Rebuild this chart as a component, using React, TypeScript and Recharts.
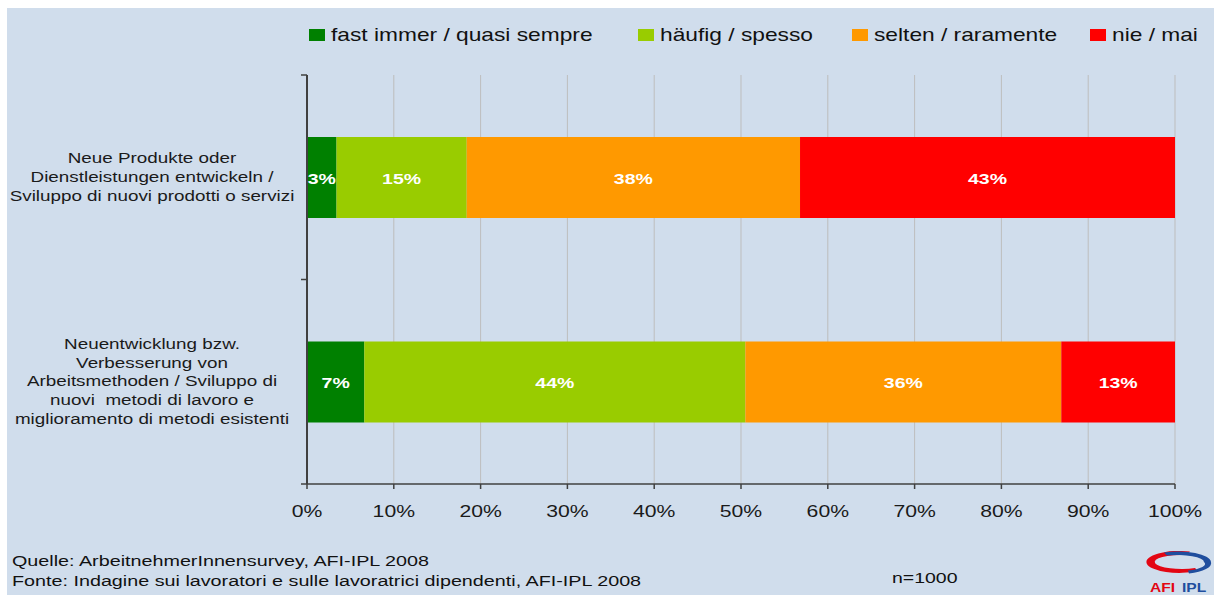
import { BarChart, Bar, XAxis, YAxis, CartesianGrid, Legend, LabelList } from 'recharts';

// Categories (one label line per entry)
const categoryLines = [
  ['Neue Produkte oder', 'Dienstleistungen entwickeln /', 'Sviluppo di nuovi prodotti o servizi'],
  [
    'Neuentwicklung bzw.',
    'Verbesserung von',
    'Arbeitsmethoden / Sviluppo di',
    'nuovi  metodi di lavoro e',
    'miglioramento di metodi esistenti',
  ],
];

// Series values in percent, one entry per category
const fastImmer = [3.4, 6.6];
const haeufig = [15.0, 43.9];
const selten = [38.4, 36.4];
const nie = [43.2, 13.1];

const seriesNames = ['fast immer / quasi sempre', 'häufig / spesso', 'selten / raramente', 'nie / mai'];
const xTicks = [0, 10, 20, 30, 40, 50, 60, 70, 80, 90, 100];

const sourceLines = [
  'Quelle: ArbeitnehmerInnensurvey, AFI-IPL 2008',
  'Fonte: Indagine sui lavoratori e sulle lavoratrici dipendenti, AFI-IPL 2008',
];
const sampleNote = 'n=1000';

// Layout
const W = 1214;
const H = 595;
const X_AXIS_H = 30;
const MARGIN = { top: 75, right: 39, bottom: 111 - X_AXIS_H, left: 17 };
const Y_AXIS_W = 290;
const FONT = '"Liberation Sans", Arial, sans-serif';
const STRETCH = 1.3; // the original picture is stretched sideways
const BG = '#D0DDEC';
const AXIS = '#404040';
const COLORS = ['#008000', '#99CC00', '#FF9900', '#FF0000'];
const LEGEND_X = [309, 638, 852, 1090];

const data = categoryLines.map((lines, i) => ({
  name: lines.join('\n'),
  fast: fastImmer[i],
  haeufig: haeufig[i],
  selten: selten[i],
  nie: nie[i],
}));

const plotH = H - MARGIN.top - MARGIN.bottom - X_AXIS_H;
const halfBand = plotH / categoryLines.length / 2;

const Stretched = ({ x, y, children, ...rest }: any) => (
  <text transform={`translate(${x},${y}) scale(${STRETCH},1)`} x={0} y={0} fontFamily={FONT} {...rest}>
    {children}
  </text>
);

const CategoryTick = ({ y, payload, index }: any) => {
  const lines = String(payload.value).split('\n');
  const lineH = 18.7;
  const start = y - ((lines.length - 1) * lineH) / 2;
  const axisX = MARGIN.left + Y_AXIS_W;
  return (
    <g>
      {lines.map((l, i) => (
        <Stretched
          key={i}
          x={152}
          y={start + i * lineH}
          textAnchor="middle"
          dominantBaseline="central"
          fontSize={14.5}
          fill="#1a1a1a"
          style={{ whiteSpace: 'pre' }}
        >
          {l}
        </Stretched>
      ))}
      <line x1={axisX - 6} x2={axisX} y1={y - halfBand} y2={y - halfBand} stroke={AXIS} strokeWidth={1.5} />
      {index === categoryLines.length - 1 && (
        <line x1={axisX - 6} x2={axisX} y1={y + halfBand} y2={y + halfBand} stroke={AXIS} strokeWidth={1.5} />
      )}
    </g>
  );
};

const PercentTick = ({ x, y, payload }: any) => (
  <Stretched x={x} y={y + 26} textAnchor="middle" fontSize={16.3} fill="#1a1a1a">
    {`${payload.value}%`}
  </Stretched>
);

const BarLabel = ({ x, y, width, height, value }: any) => (
  <Stretched
    x={x + width / 2}
    y={y + height / 2 + 1}
    textAnchor="middle"
    dominantBaseline="central"
    fontSize={15}
    fontWeight="bold"
    fill="#ffffff"
  >
    {`${Math.round(value)}%`}
  </Stretched>
);

const LegendContent = ({ payload }: any) => {
  const items = [...(payload || [])].sort(
    (a: any, b: any) => seriesNames.indexOf(a.value) - seriesNames.indexOf(b.value)
  );
  return (
    <svg width={W} height={60} style={{ display: 'block' }}>
      {items.map((entry: any, i: number) => (
        <g key={entry.value}>
          <rect x={LEGEND_X[i]} y={29} width={16} height={12} fill={entry.color} />
          <Stretched x={LEGEND_X[i] + 22} y={41} fontSize={17.5} fill="#111">
            {entry.value}
          </Stretched>
        </g>
      ))}
    </svg>
  );
};

export default function App() {
  const keys = ['fast', 'haeufig', 'selten', 'nie'];
  return (
    <div style={{ position: 'absolute', left: 0, top: 0, width: W, height: H, background: '#fff', overflow: 'hidden' }}>
      <div style={{ position: 'absolute', left: 7, top: 8, right: 0, bottom: 0, background: BG }} />
      <div style={{ position: 'absolute', left: 0, top: 0 }}>
        <BarChart width={W} height={H} data={data} layout="vertical" margin={MARGIN} barSize={81}>
          <CartesianGrid horizontal={false} stroke="#BDBDBD" strokeWidth={1} />
          <XAxis
            type="number"
            domain={[0, 100]}
            ticks={xTicks}
            tick={<PercentTick />}
            tickSize={5}
            height={X_AXIS_H}
            axisLine={{ stroke: AXIS, strokeWidth: 1.5 }}
            tickLine={{ stroke: AXIS, strokeWidth: 1.5 }}
            interval={0}
          />
          <YAxis
            type="category"
            dataKey="name"
            width={Y_AXIS_W}
            tick={<CategoryTick />}
            tickLine={false}
            axisLine={{ stroke: AXIS, strokeWidth: 2 }}
            interval={0}
          />
          <Legend
            layout="vertical"
            align="center"
            verticalAlign="middle"
            content={<LegendContent />}
            wrapperStyle={{ position: 'absolute', left: 0, top: 0, width: W, height: 60 }}
          />
          {keys.map((k, i) => (
            <Bar key={k} dataKey={k} name={seriesNames[i]} stackId="s" fill={COLORS[i]} isAnimationActive={false}>
              <LabelList dataKey={k} content={<BarLabel />} />
            </Bar>
          ))}
        </BarChart>
      </div>
      <svg width={W} height={H} style={{ position: 'absolute', left: 0, top: 0, pointerEvents: 'none' }}>
        {sourceLines.map((s, i) => (
          <Stretched key={i} x={12} y={566 + i * 20} fontSize={15.2} fill="#111">
            {s}
          </Stretched>
        ))}
        <Stretched x={892} y={583} fontSize={15} fill="#111">
          {sampleNote}
        </Stretched>
        {/* AFI-IPL logo */}
        <path
          d="M1190,551.5 A33,11 0 1,0 1198,571 L1195,568 A27,7 0 1,1 1186,555 Z"
          fill="#E30613"
        />
        <path
          d="M1164,552.5 A33,11 0 0,1 1211,562 A33,11 0 0,1 1189,573.5 L1188,570.5 A27,7 0 0,0 1204,562 A27,7 0 0,0 1167,555.5 Z"
          fill="#1F4E9E"
        />
        <Stretched x={1150} y={592} fontSize={12} fontWeight="bold" fill="#E30613">
          AFI
        </Stretched>
        <Stretched x={1182} y={592} fontSize={12} fontWeight="bold" fill="#1F4E9E">
          IPL
        </Stretched>
      </svg>
    </div>
  );
}
